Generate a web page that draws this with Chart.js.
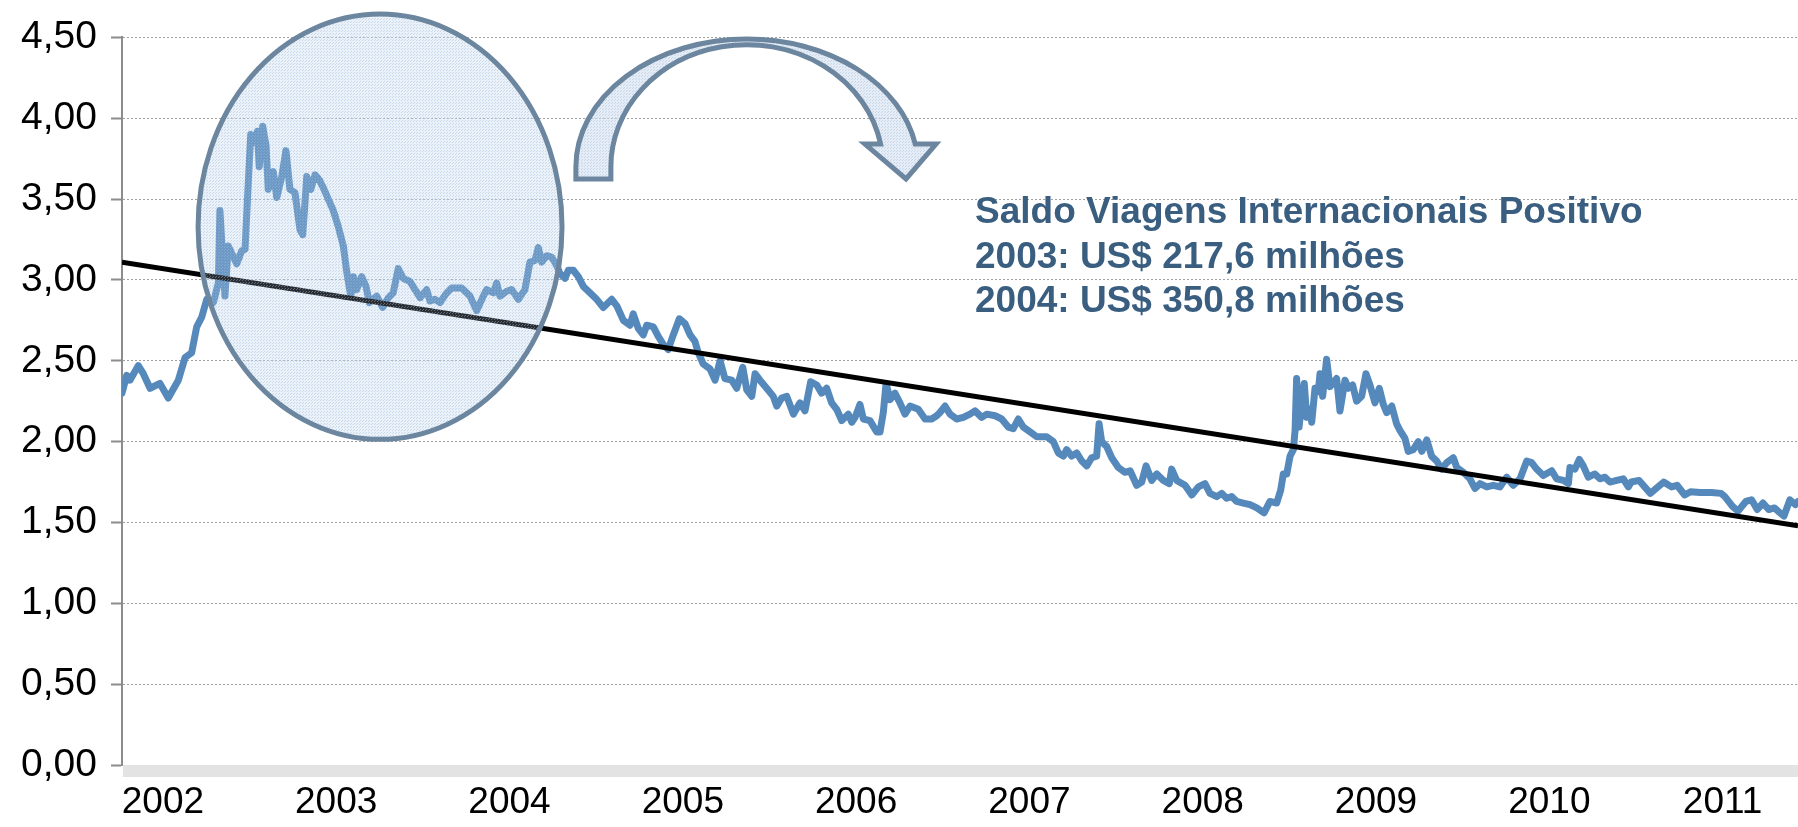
<!DOCTYPE html>
<html>
<head>
<meta charset="utf-8">
<script src="https://cdn.jsdelivr.net/npm/chart.js@4.4.0/dist/chart.umd.min.js"></script>
<style>
  html, body { margin: 0; padding: 0; background: #fff; }
  canvas { display: block; }
</style>
</head>
<body>
<canvas id="cambioChart" width="1798" height="827"></canvas>
<script>
// Dollar rate (R$/US$), dates as decimal years
const dates = [
  2002.000, 2002.027, 2002.046, 2002.094, 2002.123, 2002.162, 2002.219, 2002.267, 2002.325, 2002.364, 2002.402, 2002.431, 2002.460, 2002.489, 2002.527, 2002.556, 2002.565, 2002.594, 2002.613, 2002.662, 2002.691, 2002.710, 2002.729, 2002.743, 2002.767, 2002.781, 2002.792, 2002.812, 2002.831, 2002.844, 2002.873, 2002.893, 2002.922, 2002.946, 2002.969, 2002.998,
  2003.027, 2003.043, 2003.066, 2003.089, 2003.114, 2003.138, 2003.166, 2003.190, 2003.219, 2003.248, 2003.277, 2003.297, 2003.320, 2003.335, 2003.354, 2003.383, 2003.408, 2003.427, 2003.470, 2003.504, 2003.537, 2003.565, 2003.594, 2003.623, 2003.662, 2003.691, 2003.720, 2003.758, 2003.777, 2003.806, 2003.835, 2003.874, 2003.902, 2003.960,
  2004.008, 2004.047, 2004.085, 2004.104, 2004.143, 2004.162, 2004.181, 2004.220, 2004.249, 2004.287, 2004.325, 2004.354, 2004.383, 2004.402, 2004.422, 2004.451, 2004.480, 2004.508, 2004.527, 2004.556, 2004.575, 2004.604, 2004.633, 2004.662, 2004.700, 2004.739, 2004.777, 2004.826, 2004.855, 2004.893, 2004.931, 2004.950, 2004.979,
  2005.008, 2005.028, 2005.066, 2005.095, 2005.124, 2005.152, 2005.181, 2005.216, 2005.249, 2005.278, 2005.306, 2005.325, 2005.354, 2005.393, 2005.422, 2005.451, 2005.479, 2005.518, 2005.547, 2005.582, 2005.605, 2005.634, 2005.653, 2005.681, 2005.720, 2005.758, 2005.778, 2005.807, 2005.836, 2005.874, 2005.912, 2005.941, 2005.974,
  2006.009, 2006.037, 2006.066, 2006.095, 2006.124, 2006.153, 2006.191, 2006.211, 2006.230, 2006.258, 2006.278, 2006.316, 2006.355, 2006.374, 2006.393, 2006.409, 2006.432, 2006.460, 2006.489, 2006.518, 2006.547, 2006.595, 2006.634, 2006.672, 2006.701, 2006.720, 2006.749, 2006.778, 2006.816, 2006.855, 2006.893, 2006.922, 2006.961, 2006.990,
  2007.038, 2007.076, 2007.114, 2007.143, 2007.172, 2007.201, 2007.240, 2007.278, 2007.336, 2007.374, 2007.403, 2007.432, 2007.451, 2007.480, 2007.509, 2007.538, 2007.567, 2007.595, 2007.624, 2007.638, 2007.653, 2007.682, 2007.711, 2007.749, 2007.788, 2007.817, 2007.855, 2007.884, 2007.909, 2007.942, 2007.971,
  2008.009, 2008.043, 2008.057, 2008.086, 2008.134, 2008.173, 2008.211, 2008.249, 2008.278, 2008.317, 2008.346, 2008.374, 2008.403, 2008.432, 2008.470, 2008.509, 2008.548, 2008.590, 2008.624, 2008.663, 2008.686, 2008.701, 2008.721, 2008.740, 2008.759, 2008.769, 2008.778, 2008.792, 2008.807, 2008.822, 2008.836, 2008.855, 2008.865, 2008.884, 2008.903, 2008.913, 2008.928, 2008.951, 2008.970,
  2009.009, 2009.028, 2009.057, 2009.076, 2009.101, 2009.124, 2009.153, 2009.178, 2009.201, 2009.230, 2009.255, 2009.278, 2009.298, 2009.327, 2009.355, 2009.374, 2009.403, 2009.422, 2009.451, 2009.480, 2009.500, 2009.529, 2009.557, 2009.586, 2009.615, 2009.644, 2009.682, 2009.702, 2009.740, 2009.778, 2009.807, 2009.836, 2009.875, 2009.913, 2009.951, 2009.990,
  2010.028, 2010.067, 2010.106, 2010.134, 2010.163, 2010.201, 2010.250, 2010.278, 2010.317, 2010.346, 2010.355, 2010.384, 2010.409, 2010.432, 2010.461, 2010.499, 2010.528, 2010.557, 2010.586, 2010.625, 2010.663, 2010.692, 2010.709, 2010.754, 2010.819, 2010.863, 2010.896, 2010.941, 2010.973,
  2011.017, 2011.051, 2011.106, 2011.172, 2011.227, 2011.249, 2011.293, 2011.325, 2011.370, 2011.403, 2011.436, 2011.469, 2011.502, 2011.535, 2011.567, 2011.590, 2011.624, 2011.656, 2011.671
];

const rates = [
  2.30, 2.41, 2.38, 2.47, 2.42, 2.33, 2.36, 2.27, 2.38, 2.52, 2.55, 2.71, 2.77, 2.88, 2.86, 2.98, 3.43, 2.90, 3.21, 3.10, 3.18, 3.19, 3.61, 3.90, 3.85, 3.92, 3.70, 3.95, 3.83, 3.56, 3.67, 3.51, 3.64, 3.80, 3.56, 3.54,
  3.31, 3.28, 3.64, 3.56, 3.65, 3.62, 3.56, 3.50, 3.43, 3.33, 3.21, 3.05, 2.90, 3.02, 2.94, 3.02, 2.96, 2.86, 2.90, 2.83, 2.89, 2.92, 3.07, 3.01, 2.99, 2.94, 2.89, 2.94, 2.87, 2.88, 2.86, 2.92, 2.95, 2.95,
  2.90, 2.81, 2.90, 2.94, 2.92, 2.98, 2.90, 2.93, 2.94, 2.88, 2.94, 3.11, 3.12, 3.20, 3.11, 3.15, 3.14, 3.09, 3.04, 3.01, 3.06, 3.06, 3.02, 2.96, 2.92, 2.88, 2.83, 2.88, 2.84, 2.75, 2.72, 2.79, 2.70,
  2.66, 2.72, 2.71, 2.65, 2.60, 2.57, 2.66, 2.76, 2.73, 2.66, 2.62, 2.55, 2.48, 2.45, 2.38, 2.50, 2.39, 2.38, 2.33, 2.46, 2.32, 2.28, 2.42, 2.38, 2.33, 2.28, 2.22, 2.27, 2.28, 2.17, 2.24, 2.19, 2.37,
  2.35, 2.30, 2.33, 2.24, 2.20, 2.13, 2.17, 2.12, 2.15, 2.23, 2.14, 2.13, 2.06, 2.06, 2.18, 2.36, 2.26, 2.30, 2.24, 2.17, 2.22, 2.20, 2.14, 2.14, 2.16, 2.18, 2.22, 2.17, 2.14, 2.15, 2.17, 2.19, 2.15, 2.17,
  2.16, 2.14, 2.09, 2.08, 2.14, 2.09, 2.06, 2.03, 2.03, 2.00, 1.93, 1.91, 1.95, 1.91, 1.93, 1.88, 1.85, 1.90, 1.91, 2.11, 2.00, 1.97, 1.90, 1.84, 1.81, 1.82, 1.73, 1.75, 1.85, 1.76, 1.80,
  1.76, 1.74, 1.83, 1.76, 1.73, 1.67, 1.72, 1.74, 1.68, 1.66, 1.68, 1.65, 1.66, 1.63, 1.62, 1.61, 1.59, 1.56, 1.63, 1.62, 1.70, 1.80, 1.80, 1.91, 1.95, 2.07, 2.39, 2.09, 2.24, 2.36, 2.15, 2.20, 2.12, 2.33, 2.31, 2.42, 2.28, 2.51, 2.34,
  2.39, 2.19, 2.38, 2.33, 2.35, 2.25, 2.28, 2.42, 2.35, 2.24, 2.33, 2.23, 2.18, 2.22, 2.11, 2.07, 2.02, 1.94, 1.95, 2.00, 1.94, 2.01, 1.91, 1.88, 1.83, 1.87, 1.90, 1.84, 1.81, 1.77, 1.71, 1.74, 1.72, 1.73, 1.72, 1.78,
  1.73, 1.77, 1.88, 1.87, 1.83, 1.79, 1.82, 1.77, 1.76, 1.74, 1.84, 1.83, 1.89, 1.85, 1.78, 1.80, 1.77, 1.78, 1.75, 1.76, 1.77, 1.72, 1.75, 1.76, 1.68, 1.72, 1.75, 1.72, 1.73,
  1.67, 1.69, 1.685, 1.685, 1.68, 1.66, 1.60, 1.57, 1.63, 1.64, 1.58, 1.62, 1.58, 1.59, 1.56, 1.54, 1.64, 1.61, 1.63
];

const trendDates = [2002.000, 2011.671];
const trendValues = [3.11, 1.48];

const yearLabels = [2002, 2003, 2004, 2005, 2006, 2007, 2008, 2009, 2010, 2011];
const yearLabelShift = 0.236;

const noteLines = [
  'Saldo Viagens Internacionais Positivo',
  '2003: US$ 217,6 milhões',
  '2004: US$ 350,8 milhões'
];

const FONT = '"Liberation Sans", Arial, sans-serif';
const SHAPE_LINE = '#6b869e';

// light dotted fill, like the office shape texture
function dotFill(ctx) {
    const tile = document.createElement('canvas');
    tile.width = 3; tile.height = 3;
    const g = tile.getContext('2d');
    g.fillStyle = 'rgba(205, 222, 240, 0.2)';
    g.fillRect(0, 0, 3, 3);
    g.fillStyle = 'rgba(160, 188, 220, 0.45)';
    g.fillRect(0, 0, 1, 1);
    g.fillRect(2, 1, 1, 1);
    return ctx.createPattern(tile, 'repeat');
}

// circle, curved arrow, note text and the grey floor band
const decorations = {
    id: 'decorations',
    beforeDatasetsDraw(chart) {
        const { ctx, scales: { x, y } } = chart;
        const cx = x.getPixelForValue(2003.489), cy = y.getPixelForValue(3.329);
        const rx = x.getPixelForValue(2003.489 + 1.050) - cx;
        const ry = cy - y.getPixelForValue(3.329 + 1.315);
        ctx.save();
        ctx.beginPath();
        ctx.ellipse(cx, cy, rx, ry, 0, 0, Math.PI * 2);
        ctx.fillStyle = 'rgba(200, 218, 238, 0.25)';
        ctx.fill();
        ctx.restore();
    },
    afterDatasetsDraw(chart) {
        const { ctx, chartArea, scales: { x, y } } = chart;
        const px = t => x.getPixelForValue(t);
        const py = v => y.getPixelForValue(v);
        const fill = dotFill(ctx);

        ctx.save();

        // floor band under the plot
        ctx.fillStyle = '#e3e3e3';
        ctx.fillRect(chartArea.left + 1, chartArea.bottom, chartArea.right - chartArea.left, 12);

        // ellipse round 2002-2004
        const cx = px(2003.489), cy = py(3.329);
        const rx = px(2003.489 + 1.050) - cx;
        const ry = cy - py(3.329 + 1.315);
        ctx.beginPath();
        ctx.ellipse(cx, cy, rx, ry, 0, 0, Math.PI * 2);
        ctx.fillStyle = fill;
        ctx.fill();
        ctx.lineWidth = 5;
        ctx.strokeStyle = SHAPE_LINE;
        ctx.stroke();

        // curved arrow
        const ax = px(2005.606), ay = py(3.700);
        const orx = px(2005.606 + 0.987) - ax, ory = ay - py(3.700 + 0.790);
        const irx = px(2005.606 + 0.785) - ax, iry = ay - py(3.700 + 0.755);
        const baseY = py(3.840), tipY = py(3.625);
        const lift = ay - baseY;
        const aOut = Math.asin(lift / ory), aIn = Math.asin(lift / iry);
        ctx.beginPath();
        ctx.moveTo(ax - orx, tipY);
        ctx.lineTo(ax - orx, ay);
        ctx.ellipse(ax, ay, orx, ory, 0, Math.PI, Math.PI * 2 - aOut, false);
        ctx.lineTo(px(2006.697), baseY);
        ctx.lineTo(px(2006.524), tipY);
        ctx.lineTo(px(2006.287), baseY);
        ctx.lineTo(ax + irx * Math.cos(aIn), baseY);
        ctx.ellipse(ax, ay, irx, iry, 0, Math.PI * 2 - aIn, Math.PI, true);
        ctx.lineTo(ax - irx, tipY);
        ctx.closePath();
        ctx.fillStyle = 'rgba(210, 224, 240, 0.45)';
        ctx.fill();
        ctx.fillStyle = fill;
        ctx.fill();
        ctx.lineJoin = 'miter';
        ctx.lineWidth = 5;
        ctx.strokeStyle = SHAPE_LINE;
        ctx.stroke();

        // note
        ctx.font = 'bold 37px ' + FONT;
        ctx.fillStyle = '#3a5e80';
        ctx.textAlign = 'left';
        ctx.textBaseline = 'alphabetic';
        const tx = px(2006.922), ty = py(3.350);
        noteLines.forEach((line, i) => ctx.fillText(line, tx, ty + i * 44.5));

        ctx.restore();
    }
};

const ctx = document.getElementById('cambioChart').getContext('2d');

new Chart(ctx, {
    type: 'line',
    data: {
        datasets: [
            {
                label: 'Tendência',
                data: trendDates.map((d, i) => ({ x: d, y: trendValues[i] })),
                borderColor: '#000000',
                borderWidth: 5,
                pointRadius: 0,
                fill: false,
                order: 0
            },
            {
                label: 'R$/US$',
                data: dates.map((d, i) => ({ x: d, y: rates[i] })),
                borderColor: '#5589bc',
                borderWidth: 7,
                borderJoinStyle: 'round',
                borderCapStyle: 'round',
                pointRadius: 0,
                tension: 0,
                fill: false,
                order: 1
            }
        ]
    },
    options: {
        responsive: false,
        animation: false,
        events: [],
        layout: { padding: { top: 36, right: 0, bottom: 0, left: 0 } },
        plugins: {
            legend: { display: false },
            tooltip: { enabled: false }
        },
        scales: {
            x: {
                type: 'linear',
                bounds: 'data',
                min: dates[0],
                max: dates[dates.length - 1],
                afterFit(scale) { scale.height = 62; },
                afterBuildTicks(scale) {
                    scale.ticks = yearLabels.map(yr => ({ value: yr + yearLabelShift }));
                },
                ticks: {
                    autoSkip: false,
                    maxRotation: 0,
                    padding: 16,
                    color: '#000',
                    font: { family: FONT, size: 37 },
                    callback: v => String(Math.floor(v))
                },
                grid: { display: false, drawTicks: false },
                border: { display: false }
            },
            y: {
                min: 0,
                max: 4.5,
                afterFit(scale) { scale.width = 122; },
                ticks: {
                    stepSize: 0.5,
                    padding: 14,
                    color: '#000',
                    font: { family: FONT, size: 39 },
                    callback: v => v.toFixed(2).replace('.', ',')
                },
                grid: {
                    color: '#a0a0a0',
                    lineWidth: 1,
                    tickLength: 11,
                    tickColor: '#8c8c8c',
                    tickWidth: 2
                },
                border: { display: true, color: '#8c8c8c', width: 2, dash: [2, 2] }
            }
        }
    },
    plugins: [decorations]
});
</script>
</body>
</html>
